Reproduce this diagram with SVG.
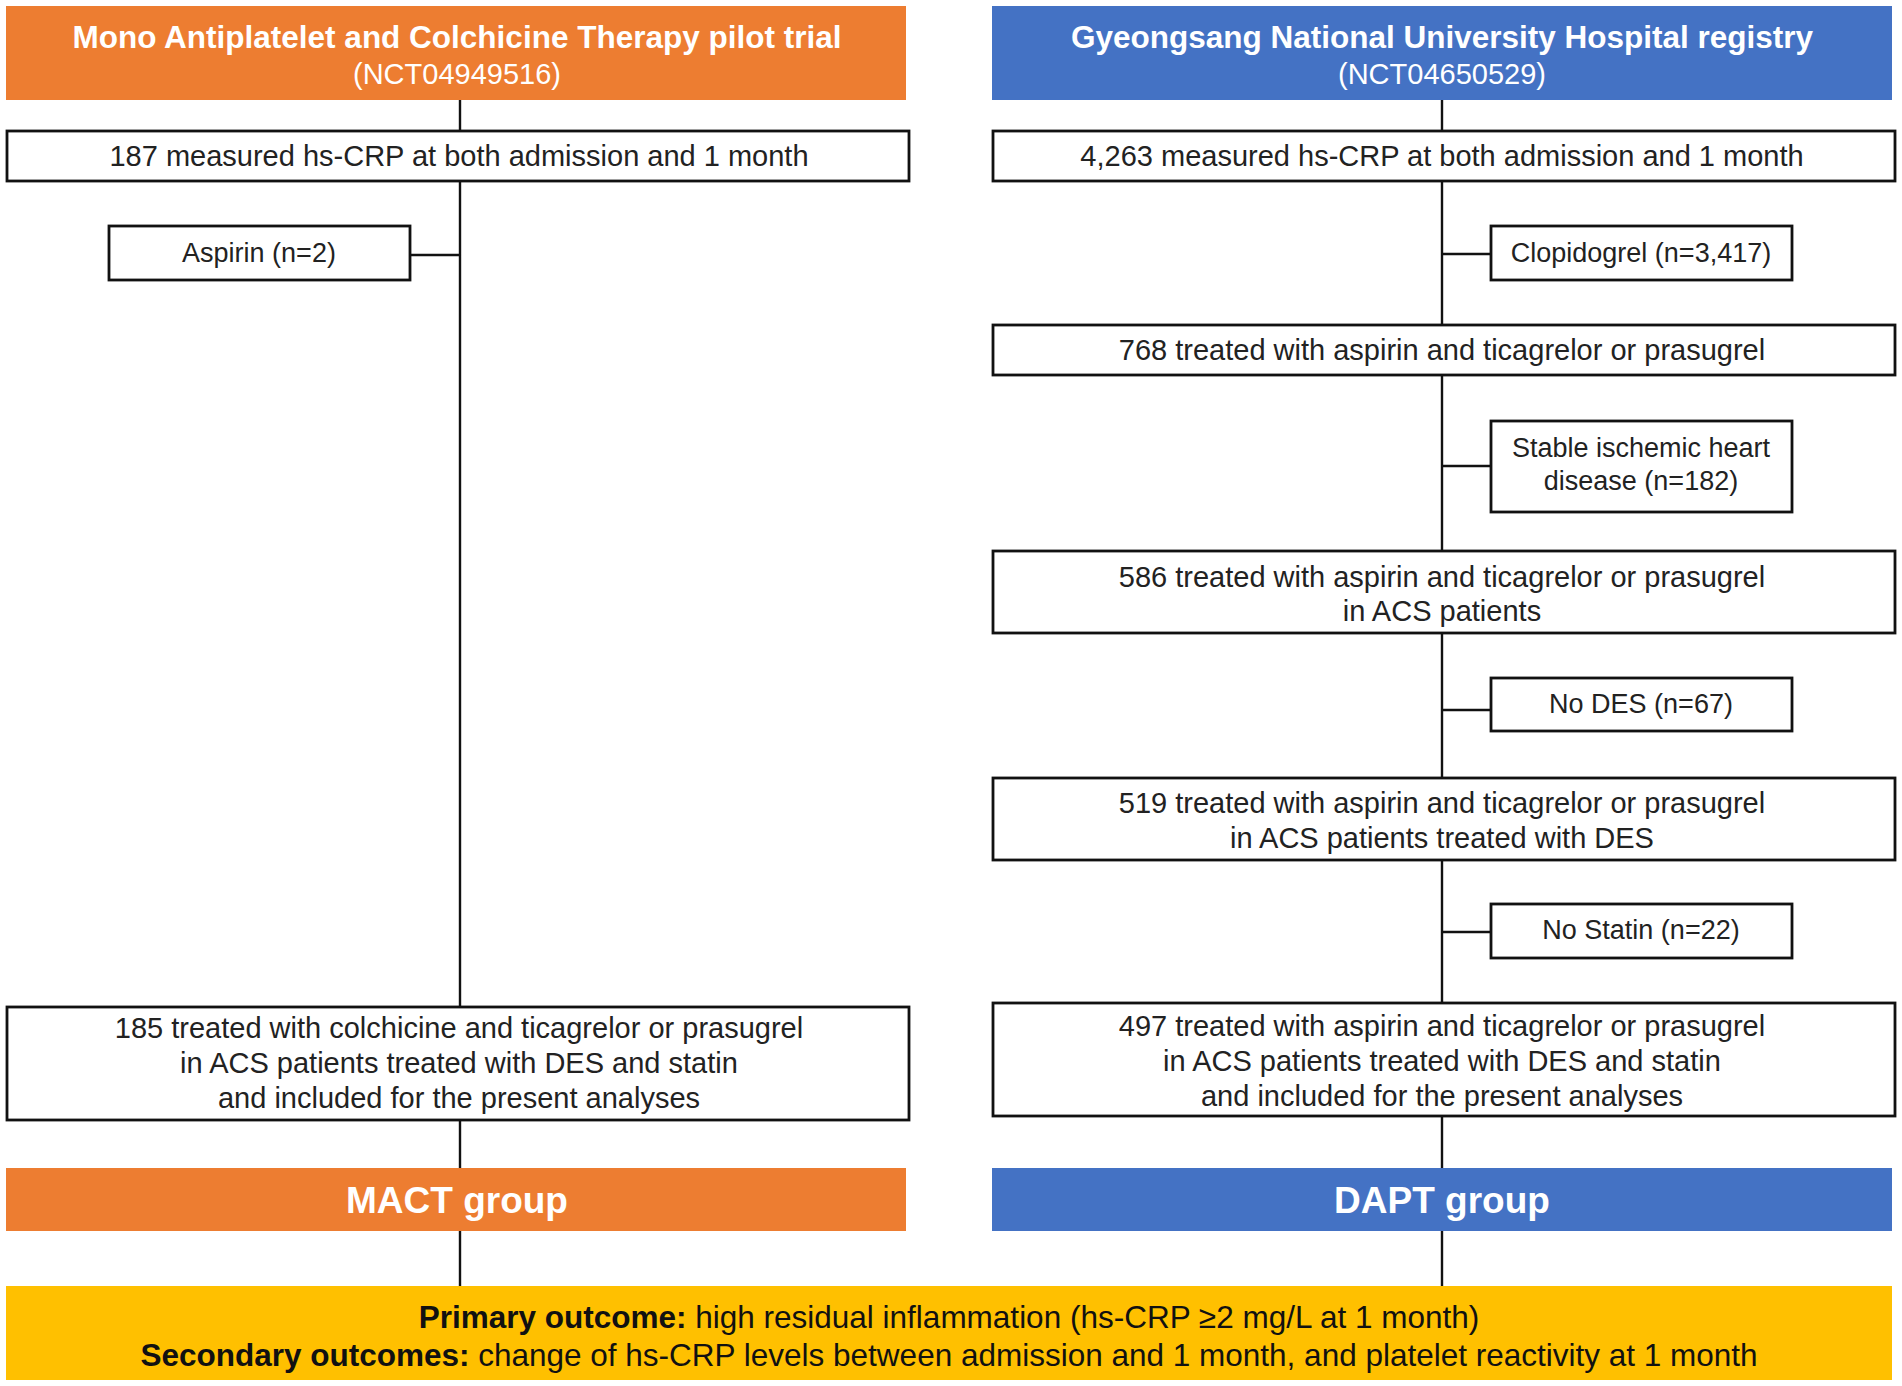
<svg xmlns="http://www.w3.org/2000/svg" width="1902" height="1386" viewBox="0 0 1902 1386">
<style>
text{font-family:"Liberation Sans",Arial,sans-serif;text-anchor:middle}
.box{fill:#fff;stroke:#111;stroke-width:2.8}
.t{font-size:29px;fill:#222}
.s{font-size:27px;fill:#222}
.hd{fill:#fff;font-size:31.5px;font-weight:bold}
.nct{fill:#fff;font-size:29px}
.b{font-weight:bold}
.grp{fill:#fff;font-size:37px;font-weight:bold}
.ln{stroke:#111;stroke-width:2.4;fill:none}
.out{font-size:31.5px;fill:#111}
</style>
<rect width="1902" height="1386" fill="#fff"/>
<g id="connectors">
<path class="ln" d="M460 100V1007M460 1120V1168M460 1231V1286M410 255H460"/>
<path class="ln" d="M1442 100V1003M1442 1116V1168M1442 1231V1286M1442 254H1491M1442 466H1491M1442 710H1491M1442 932H1491"/>
</g>
<g id="mact-header"><rect x="6" y="6" width="900" height="94" fill="#ED7D31"/>
<text class="hd" x="457" y="48">Mono Antiplatelet and Colchicine Therapy pilot trial</text>
<text class="nct" x="457" y="84">(NCT04949516)</text></g>
<g id="gnuh-header"><rect x="992" y="6" width="900" height="94" fill="#4472C4"/>
<text class="hd" x="1442" y="48">Gyeongsang National University Hospital registry</text>
<text class="nct" x="1442" y="84">(NCT04650529)</text></g>
<g id="l-187"><rect class="box" x="7" y="131" width="902" height="50"/>
<text class="t" x="459" y="166">187 measured hs-CRP at both admission and 1 month</text></g>
<g id="l-aspirin"><rect class="box" x="109" y="226" width="301" height="54"/>
<text class="s" x="259" y="262">Aspirin (n=2)</text></g>
<g id="l-185"><rect class="box" x="7" y="1007" width="902" height="113"/>
<text class="t" x="459" y="1038">185 treated with colchicine and ticagrelor or prasugrel</text>
<text class="t" x="459" y="1073">in ACS patients treated with DES and statin</text>
<text class="t" x="459" y="1108">and included for the present analyses</text></g>
<g id="mact-group"><rect x="6" y="1168" width="900" height="63" fill="#ED7D31"/>
<text class="grp" x="457" y="1213">MACT group</text></g>
<g id="r-4263"><rect class="box" x="993" y="131" width="902" height="50"/>
<text class="t" x="1442" y="166">4,263 measured hs-CRP at both admission and 1 month</text></g>
<g id="r-clop"><rect class="box" x="1491" y="226" width="301" height="54"/>
<text class="s" x="1641" y="262">Clopidogrel (n=3,417)</text></g>
<g id="r-768"><rect class="box" x="993" y="325" width="902" height="50"/>
<text class="t" x="1442" y="360">768 treated with aspirin and ticagrelor or prasugrel</text></g>
<g id="r-stable"><rect class="box" x="1491" y="421" width="301" height="91"/>
<text class="s" x="1641" y="457">Stable ischemic heart</text>
<text class="s" x="1641" y="490">disease (n=182)</text></g>
<g id="r-586"><rect class="box" x="993" y="551" width="902" height="82"/>
<text class="t" x="1442" y="587">586 treated with aspirin and ticagrelor or prasugrel</text>
<text class="t" x="1442" y="621">in ACS patients</text></g>
<g id="r-nodes"><rect class="box" x="1491" y="678" width="301" height="53"/>
<text class="s" x="1641" y="713">No DES (n=67)</text></g>
<g id="r-519"><rect class="box" x="993" y="778" width="902" height="82"/>
<text class="t" x="1442" y="813">519 treated with aspirin and ticagrelor or prasugrel</text>
<text class="t" x="1442" y="848">in ACS patients treated with DES</text></g>
<g id="r-nostatin"><rect class="box" x="1491" y="904" width="301" height="54"/>
<text class="s" x="1641" y="939">No Statin (n=22)</text></g>
<g id="r-497"><rect class="box" x="993" y="1003" width="902" height="113"/>
<text class="t" x="1442" y="1036">497 treated with aspirin and ticagrelor or prasugrel</text>
<text class="t" x="1442" y="1071">in ACS patients treated with DES and statin</text>
<text class="t" x="1442" y="1106">and included for the present analyses</text></g>
<g id="dapt-group"><rect x="992" y="1168" width="900" height="63" fill="#4472C4"/>
<text class="grp" x="1442" y="1213">DAPT group</text></g>
<g id="outcomes"><rect x="6" y="1286" width="1886" height="94" fill="#FFC000"/>
<text class="out" x="949" y="1328"><tspan class="b">Primary outcome:</tspan> high residual inflammation (hs-CRP ≥2 mg/L at 1 month)</text>
<text class="out" x="949" y="1366"><tspan class="b">Secondary outcomes:</tspan> change of hs-CRP levels between admission and 1 month, and platelet reactivity at 1 month</text></g>
</svg>
